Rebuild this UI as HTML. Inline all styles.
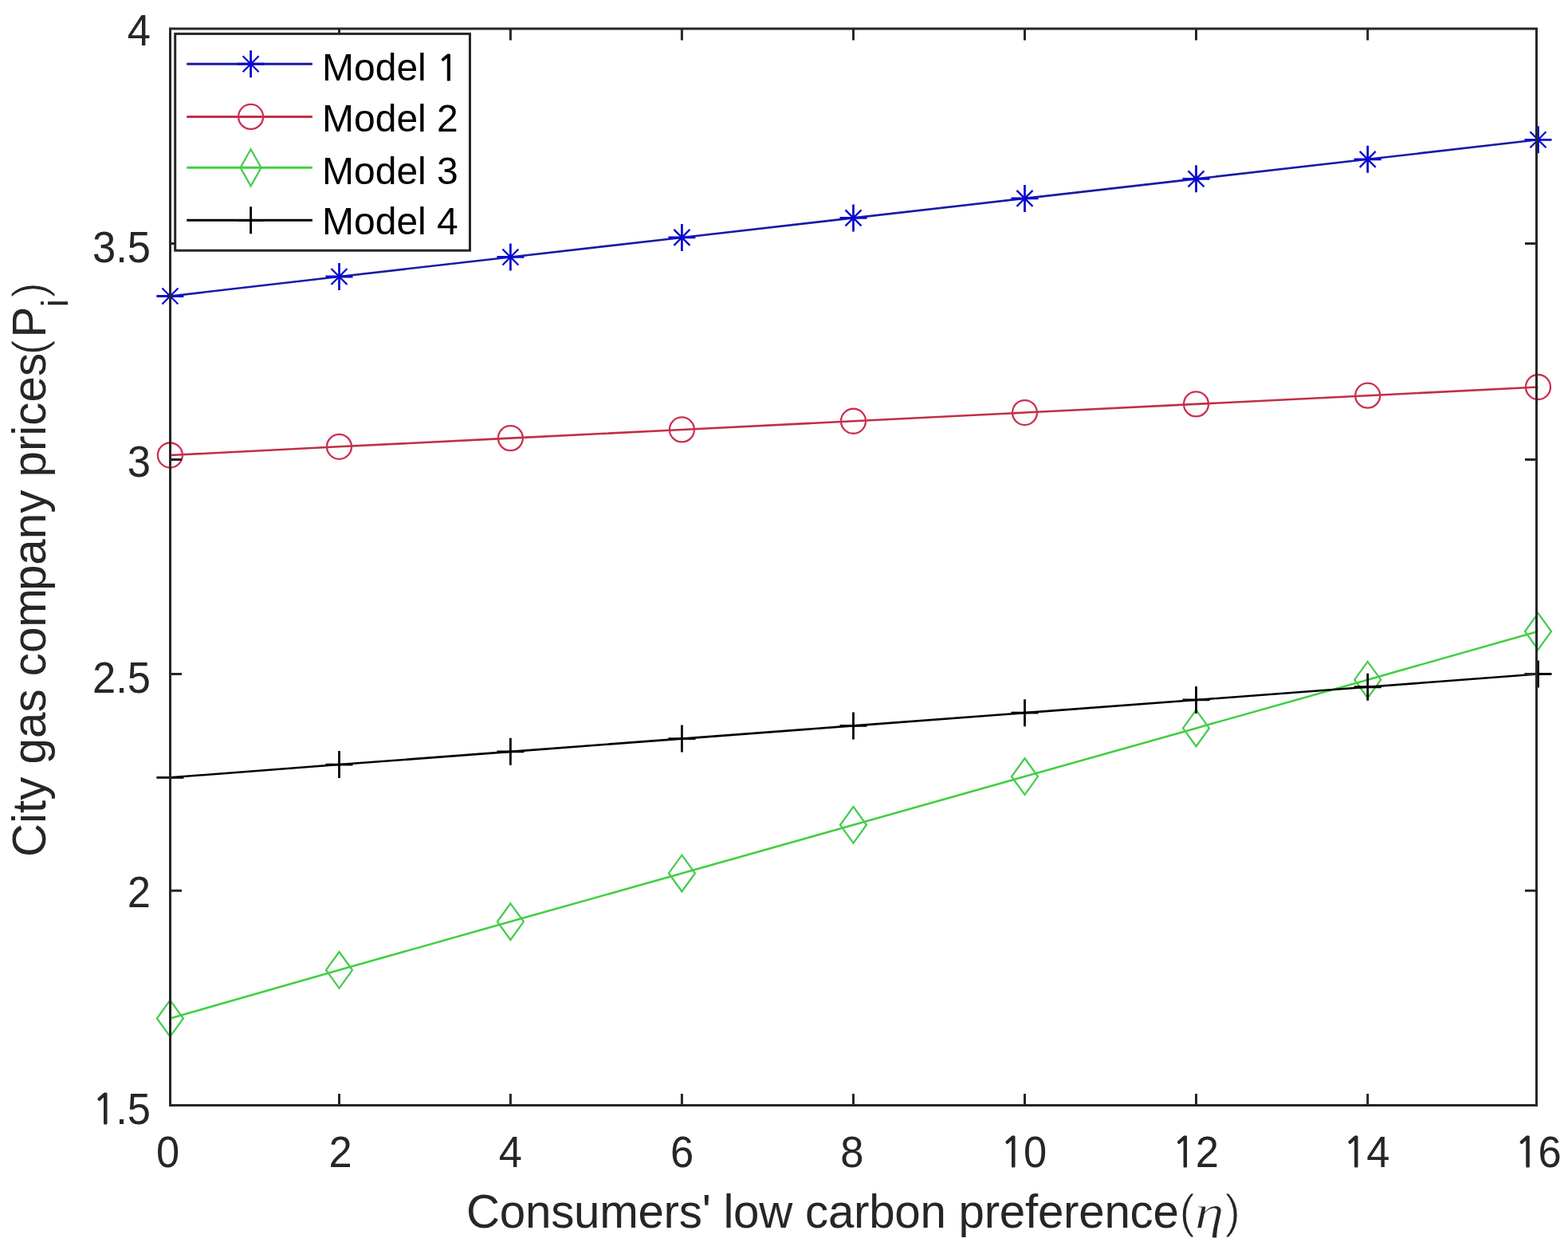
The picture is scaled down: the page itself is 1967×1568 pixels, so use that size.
<!DOCTYPE html>
<html><head><meta charset="utf-8"><title>City gas company prices</title>
<style>html,body{margin:0;padding:0;background:#fff;}svg{display:block;}</style>
</head><body>
<svg width="1967" height="1568" viewBox="0 0 1967 1568">
<rect width="1967" height="1568" fill="#ffffff"/>
<polyline points="213.40,371.50 425.50,346.98 640.40,322.45 855.40,297.93 1070.50,273.40 1285.50,248.88 1500.50,224.35 1715.70,199.83 1929.50,175.30" stroke="#1a1aa6" stroke-width="2.6" fill="none"/>
<path d="M196.40 371.50H230.40M213.40 354.50V388.50" stroke="#0a0ad0" stroke-width="2.8" fill="none"/><path d="M203.40 361.50L223.40 381.50M203.40 381.50L223.40 361.50" stroke="#0a0ad0" stroke-width="2.3" fill="none"/>
<path d="M408.50 346.98H442.50M425.50 329.98V363.98" stroke="#0a0ad0" stroke-width="2.8" fill="none"/><path d="M415.50 336.98L435.50 356.98M415.50 356.98L435.50 336.98" stroke="#0a0ad0" stroke-width="2.3" fill="none"/>
<path d="M623.40 322.45H657.40M640.40 305.45V339.45" stroke="#0a0ad0" stroke-width="2.8" fill="none"/><path d="M630.40 312.45L650.40 332.45M630.40 332.45L650.40 312.45" stroke="#0a0ad0" stroke-width="2.3" fill="none"/>
<path d="M838.40 297.93H872.40M855.40 280.93V314.93" stroke="#0a0ad0" stroke-width="2.8" fill="none"/><path d="M845.40 287.93L865.40 307.93M845.40 307.93L865.40 287.93" stroke="#0a0ad0" stroke-width="2.3" fill="none"/>
<path d="M1053.50 273.40H1087.50M1070.50 256.40V290.40" stroke="#0a0ad0" stroke-width="2.8" fill="none"/><path d="M1060.50 263.40L1080.50 283.40M1060.50 283.40L1080.50 263.40" stroke="#0a0ad0" stroke-width="2.3" fill="none"/>
<path d="M1268.50 248.88H1302.50M1285.50 231.88V265.88" stroke="#0a0ad0" stroke-width="2.8" fill="none"/><path d="M1275.50 238.88L1295.50 258.88M1275.50 258.88L1295.50 238.88" stroke="#0a0ad0" stroke-width="2.3" fill="none"/>
<path d="M1483.50 224.35H1517.50M1500.50 207.35V241.35" stroke="#0a0ad0" stroke-width="2.8" fill="none"/><path d="M1490.50 214.35L1510.50 234.35M1490.50 234.35L1510.50 214.35" stroke="#0a0ad0" stroke-width="2.3" fill="none"/>
<path d="M1698.70 199.83H1732.70M1715.70 182.83V216.83" stroke="#0a0ad0" stroke-width="2.8" fill="none"/><path d="M1705.70 189.83L1725.70 209.83M1705.70 209.83L1725.70 189.83" stroke="#0a0ad0" stroke-width="2.3" fill="none"/>
<path d="M1912.50 175.30H1946.50M1929.50 158.30V192.30" stroke="#0a0ad0" stroke-width="2.8" fill="none"/><path d="M1919.50 165.30L1939.50 185.30M1919.50 185.30L1939.50 165.30" stroke="#0a0ad0" stroke-width="2.3" fill="none"/>
<polyline points="213.40,571.00 425.50,560.31 640.40,549.62 855.40,538.94 1070.50,528.25 1285.50,517.56 1500.50,506.88 1715.70,496.19 1929.50,485.50" stroke="#c03046" stroke-width="2.6" fill="none"/>
<circle cx="213.40" cy="571.00" r="15.5" stroke="#cc3050" stroke-width="2.3" fill="none"/>
<circle cx="425.50" cy="560.31" r="15.5" stroke="#cc3050" stroke-width="2.3" fill="none"/>
<circle cx="640.40" cy="549.62" r="15.5" stroke="#cc3050" stroke-width="2.3" fill="none"/>
<circle cx="855.40" cy="538.94" r="15.5" stroke="#cc3050" stroke-width="2.3" fill="none"/>
<circle cx="1070.50" cy="528.25" r="15.5" stroke="#cc3050" stroke-width="2.3" fill="none"/>
<circle cx="1285.50" cy="517.56" r="15.5" stroke="#cc3050" stroke-width="2.3" fill="none"/>
<circle cx="1500.50" cy="506.88" r="15.5" stroke="#cc3050" stroke-width="2.3" fill="none"/>
<circle cx="1715.70" cy="496.19" r="15.5" stroke="#cc3050" stroke-width="2.3" fill="none"/>
<circle cx="1929.50" cy="485.50" r="15.5" stroke="#cc3050" stroke-width="2.3" fill="none"/>
<polyline points="213.40,1277.50 425.50,1216.81 640.40,1156.12 855.40,1095.44 1070.50,1034.75 1285.50,974.06 1500.50,913.38 1715.70,852.69 1929.50,792.00" stroke="#40d040" stroke-width="2.6" fill="none"/>
<path d="M213.40 1254.70L229.90 1277.50L213.40 1300.30L196.90 1277.50Z" stroke="#48cc50" stroke-width="2.3" fill="none"/>
<path d="M425.50 1194.01L442.00 1216.81L425.50 1239.61L409.00 1216.81Z" stroke="#48cc50" stroke-width="2.3" fill="none"/>
<path d="M640.40 1133.33L656.90 1156.12L640.40 1178.92L623.90 1156.12Z" stroke="#48cc50" stroke-width="2.3" fill="none"/>
<path d="M855.40 1072.64L871.90 1095.44L855.40 1118.24L838.90 1095.44Z" stroke="#48cc50" stroke-width="2.3" fill="none"/>
<path d="M1070.50 1011.95L1087.00 1034.75L1070.50 1057.55L1054.00 1034.75Z" stroke="#48cc50" stroke-width="2.3" fill="none"/>
<path d="M1285.50 951.26L1302.00 974.06L1285.50 996.86L1269.00 974.06Z" stroke="#48cc50" stroke-width="2.3" fill="none"/>
<path d="M1500.50 890.58L1517.00 913.38L1500.50 936.17L1484.00 913.38Z" stroke="#48cc50" stroke-width="2.3" fill="none"/>
<path d="M1715.70 829.89L1732.20 852.69L1715.70 875.49L1699.20 852.69Z" stroke="#48cc50" stroke-width="2.3" fill="none"/>
<path d="M1929.50 769.20L1946.00 792.00L1929.50 814.80L1913.00 792.00Z" stroke="#48cc50" stroke-width="2.3" fill="none"/>
<polyline points="213.40,975.30 425.50,959.07 640.40,942.85 855.40,926.62 1070.50,910.40 1285.50,894.17 1500.50,877.95 1715.70,861.73 1929.50,845.50" stroke="#000000" stroke-width="2.6" fill="none"/>
<path d="M196.40 975.30H230.40M213.40 958.30V992.30" stroke="#000000" stroke-width="2.8" fill="none"/>
<path d="M408.50 959.07H442.50M425.50 942.07V976.07" stroke="#000000" stroke-width="2.8" fill="none"/>
<path d="M623.40 942.85H657.40M640.40 925.85V959.85" stroke="#000000" stroke-width="2.8" fill="none"/>
<path d="M838.40 926.62H872.40M855.40 909.62V943.62" stroke="#000000" stroke-width="2.8" fill="none"/>
<path d="M1053.50 910.40H1087.50M1070.50 893.40V927.40" stroke="#000000" stroke-width="2.8" fill="none"/>
<path d="M1268.50 894.17H1302.50M1285.50 877.17V911.17" stroke="#000000" stroke-width="2.8" fill="none"/>
<path d="M1483.50 877.95H1517.50M1500.50 860.95V894.95" stroke="#000000" stroke-width="2.8" fill="none"/>
<path d="M1698.70 861.73H1732.70M1715.70 844.73V878.73" stroke="#000000" stroke-width="2.8" fill="none"/>
<path d="M1912.50 845.50H1946.50M1929.50 828.50V862.50" stroke="#000000" stroke-width="2.8" fill="none"/>
<rect x="213.5" y="36.0" width="1714.0" height="1350.5" fill="none" stroke="#262626" stroke-width="3"/>
<path d="M425.50 1386.5V1372.0M425.50 36.0V50.5M640.40 1386.5V1372.0M640.40 36.0V50.5M855.40 1386.5V1372.0M855.40 36.0V50.5M1070.50 1386.5V1372.0M1070.50 36.0V50.5M1285.50 1386.5V1372.0M1285.50 36.0V50.5M1500.50 1386.5V1372.0M1500.50 36.0V50.5M1715.70 1386.5V1372.0M1715.70 36.0V50.5M213.5 305.60H228.0M1927.5 305.60H1913.0M213.5 576.40H228.0M1927.5 576.40H1913.0M213.5 845.60H228.0M1927.5 845.60H1913.0M213.5 1117.20H228.0M1927.5 1117.20H1913.0" stroke="#262626" stroke-width="3" fill="none"/>
<text transform="translate(210.50 1463.8) scale(1 1.06)" font-size="52.5" text-anchor="middle" fill="#262626" font-family='"Liberation Sans", Arial, Helvetica, sans-serif'>0</text>
<text transform="translate(427.00 1463.8) scale(1 1.06)" font-size="52.5" text-anchor="middle" fill="#262626" font-family='"Liberation Sans", Arial, Helvetica, sans-serif'>2</text>
<text transform="translate(640.40 1463.8) scale(1 1.06)" font-size="52.5" text-anchor="middle" fill="#262626" font-family='"Liberation Sans", Arial, Helvetica, sans-serif'>4</text>
<text transform="translate(855.60 1463.8) scale(1 1.06)" font-size="52.5" text-anchor="middle" fill="#262626" font-family='"Liberation Sans", Arial, Helvetica, sans-serif'>6</text>
<text transform="translate(1068.80 1463.8) scale(1 1.06)" font-size="52.5" text-anchor="middle" fill="#262626" font-family='"Liberation Sans", Arial, Helvetica, sans-serif'>8</text>
<text transform="translate(1284.10 1463.8) scale(1 1.06)" font-size="52.5" text-anchor="middle" fill="#262626" font-family='"Liberation Sans", Arial, Helvetica, sans-serif'><tspan font-family='NanumGothic, "Liberation Sans", sans-serif' font-size="48.67" stroke="#262626" stroke-width="1.1">1</tspan><tspan dx="-0.30">0</tspan></text>
<text transform="translate(1499.70 1463.8) scale(1 1.06)" font-size="52.5" text-anchor="middle" fill="#262626" font-family='"Liberation Sans", Arial, Helvetica, sans-serif'><tspan font-family='NanumGothic, "Liberation Sans", sans-serif' font-size="48.67" stroke="#262626" stroke-width="1.1">1</tspan><tspan dx="-0.30">2</tspan></text>
<text transform="translate(1714.20 1463.8) scale(1 1.06)" font-size="52.5" text-anchor="middle" fill="#262626" font-family='"Liberation Sans", Arial, Helvetica, sans-serif'><tspan font-family='NanumGothic, "Liberation Sans", sans-serif' font-size="48.67" stroke="#262626" stroke-width="1.1">1</tspan><tspan dx="-0.30">4</tspan></text>
<text transform="translate(1929.50 1463.8) scale(1 1.06)" font-size="52.5" text-anchor="middle" fill="#262626" font-family='"Liberation Sans", Arial, Helvetica, sans-serif'><tspan font-family='NanumGothic, "Liberation Sans", sans-serif' font-size="48.67" stroke="#262626" stroke-width="1.1">1</tspan><tspan dx="-0.30">6</tspan></text>
<text transform="translate(189 56.6) scale(1 1.06)" font-size="52.5" text-anchor="end" fill="#262626" font-family='"Liberation Sans", Arial, Helvetica, sans-serif'>4</text>
<text transform="translate(189 328.8) scale(1 1.06)" font-size="52.5" text-anchor="end" fill="#262626" font-family='"Liberation Sans", Arial, Helvetica, sans-serif'>3.5</text>
<text transform="translate(189 597.6) scale(1 1.06)" font-size="52.5" text-anchor="end" fill="#262626" font-family='"Liberation Sans", Arial, Helvetica, sans-serif'>3</text>
<text transform="translate(189 869.1) scale(1 1.06)" font-size="52.5" text-anchor="end" fill="#262626" font-family='"Liberation Sans", Arial, Helvetica, sans-serif'>2.5</text>
<text transform="translate(189 1137.9) scale(1 1.06)" font-size="52.5" text-anchor="end" fill="#262626" font-family='"Liberation Sans", Arial, Helvetica, sans-serif'>2</text>
<text transform="translate(189 1410.4) scale(1 1.06)" font-size="52.5" text-anchor="end" fill="#262626" font-family='"Liberation Sans", Arial, Helvetica, sans-serif'><tspan font-family='NanumGothic, "Liberation Sans", sans-serif' font-size="48.67" stroke="#262626" stroke-width="1.1">1</tspan><tspan dx="-0.30">.</tspan>5</text>
<text x="585" y="1540.3" font-size="58.3" letter-spacing="-0.27" fill="#262626" font-family='"Liberation Sans", Arial, Helvetica, sans-serif'>Consumers' low carbon preference<tspan x="1479.5" letter-spacing="0" stroke="#ffffff" stroke-width="1.2">(</tspan><tspan x="1536.5" letter-spacing="0" stroke="#ffffff" stroke-width="1.2">)</tspan></text>
<text transform="translate(1499 1540.3) scale(1.22 1)" font-size="60" font-family='"Liberation Serif", serif' font-style="italic" fill="#262626" stroke="#ffffff" stroke-width="0.9">η</text>
<text transform="translate(57 714.5) rotate(-90)" x="0" y="0" font-size="58.3" text-anchor="middle" fill="#262626" font-family='"Liberation Sans", Arial, Helvetica, sans-serif'>City gas com<tspan dx="-3">pany prices</tspan><tspan dx="-2.5" stroke="#ffffff" stroke-width="1.2">(</tspan><tspan dx="2.5">P</tspan><tspan font-size="46" dy="28" dx="-0.5">i</tspan><tspan dy="-28" dx="1.5" stroke="#ffffff" stroke-width="1.2">)</tspan></text>
<rect x="219.7" y="42.4" width="369.8" height="271.8" fill="#ffffff" stroke="#262626" stroke-width="3"/>
<path d="M234.3 80.2H391.9" stroke="#1a1aa6" stroke-width="3" fill="none"/>
<path d="M297.60 80.20H331.60M314.60 63.20V97.20" stroke="#0a0ad0" stroke-width="2.8" fill="none"/><path d="M304.60 70.20L324.60 90.20M304.60 90.20L324.60 70.20" stroke="#0a0ad0" stroke-width="2.3" fill="none"/>
<text x="404" y="101.35" font-size="48" fill="#000000" font-family='"Liberation Sans", Arial, Helvetica, sans-serif'>Model <tspan font-family='NanumGothic, "Liberation Sans", sans-serif' font-size="44.50" stroke="#000000" stroke-width="1.1">1</tspan></text>
<path d="M234.3 146.4H391.9" stroke="#c03046" stroke-width="3" fill="none"/>
<circle cx="314.60" cy="146.40" r="15.5" stroke="#cc3050" stroke-width="2.3" fill="none"/>
<text x="404" y="164.55" font-size="48" fill="#000000" font-family='"Liberation Sans", Arial, Helvetica, sans-serif'>Model 2</text>
<path d="M234.3 210.3H391.9" stroke="#40d040" stroke-width="3" fill="none"/>
<path d="M314.60 187.30L327.60 210.30L314.60 233.30L301.60 210.30Z" stroke="#48cc50" stroke-width="2.3" fill="none"/>
<text x="404" y="231.25" font-size="48" fill="#000000" font-family='"Liberation Sans", Arial, Helvetica, sans-serif'>Model 3</text>
<path d="M234.3 276.3H391.9" stroke="#000000" stroke-width="3" fill="none"/>
<path d="M297.60 276.30H331.60M314.60 259.30V293.30" stroke="#000000" stroke-width="2.8" fill="none"/>
<text x="404" y="294.35" font-size="48" fill="#000000" font-family='"Liberation Sans", Arial, Helvetica, sans-serif'>Model 4</text>
</svg>
</body></html>
